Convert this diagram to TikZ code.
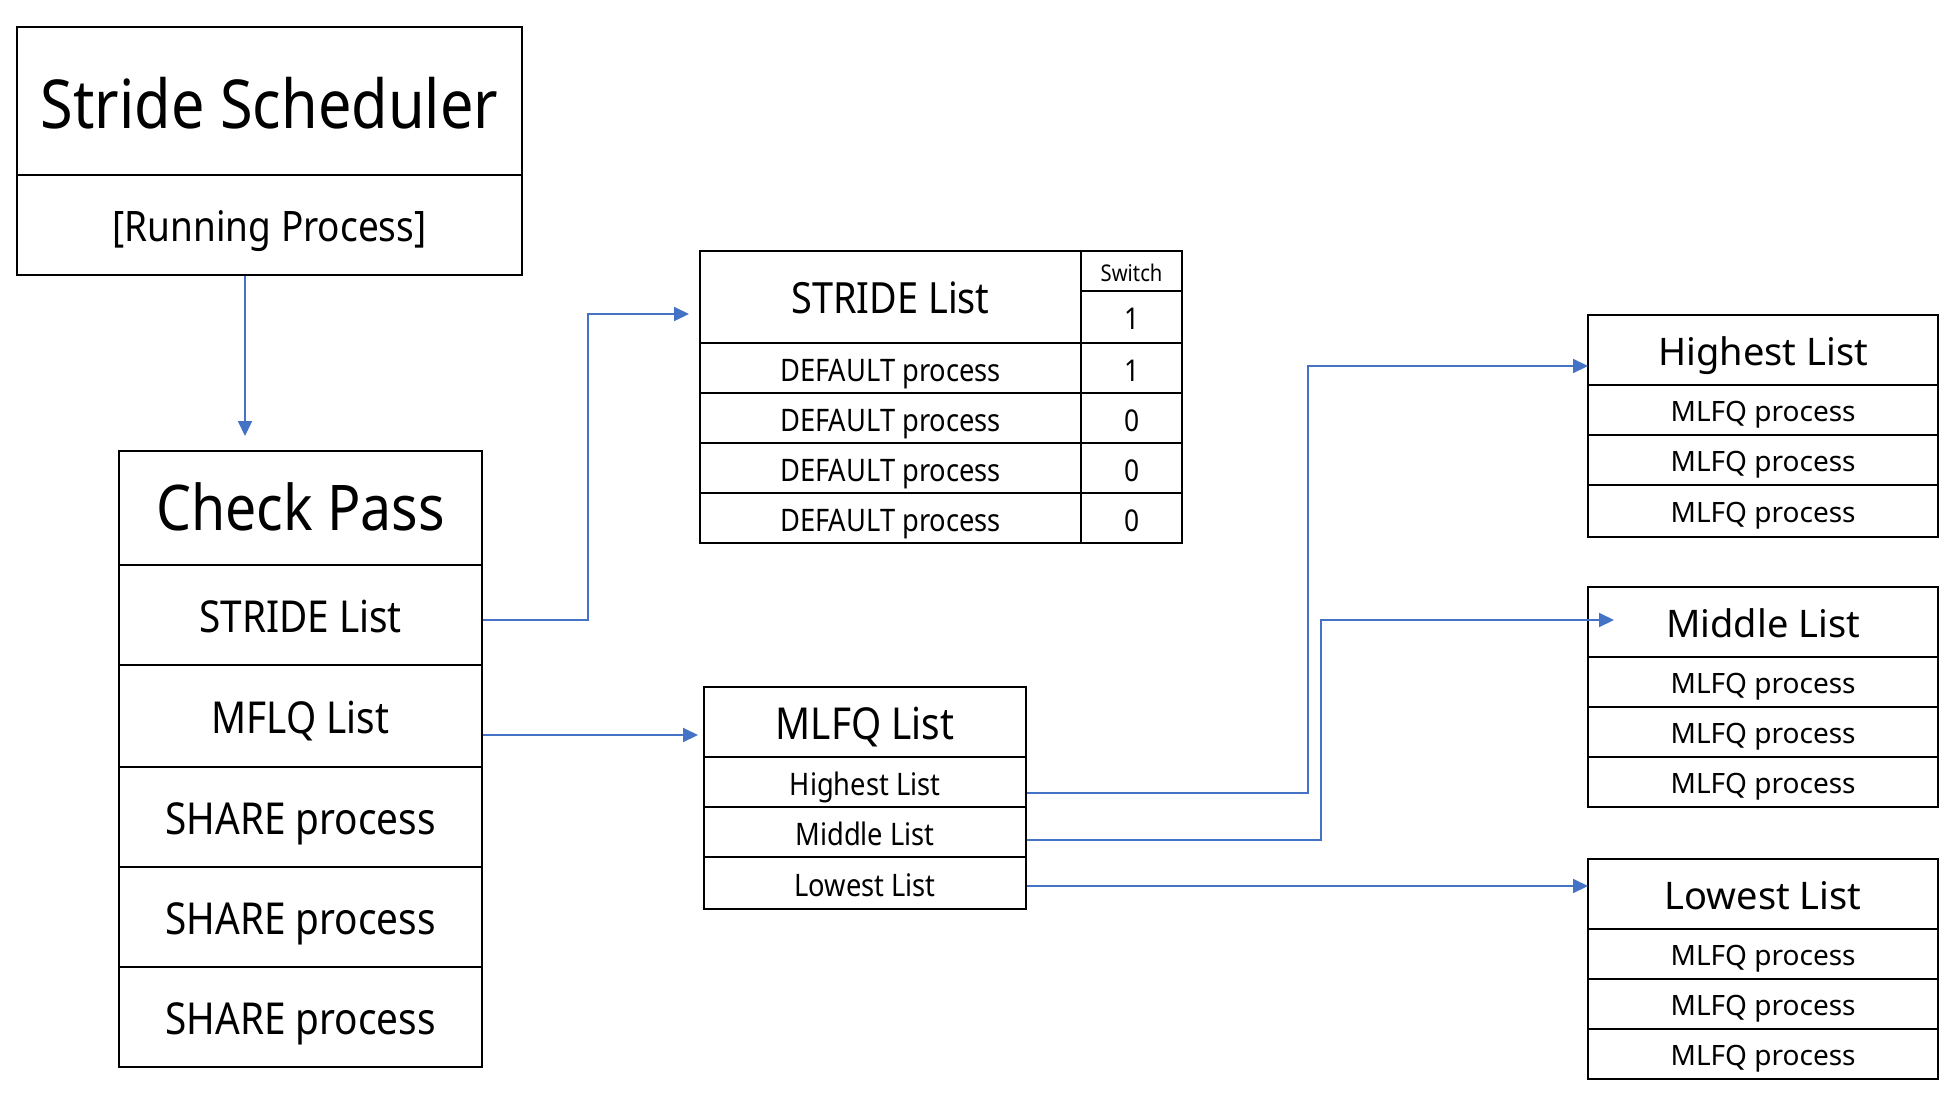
\documentclass[tikz,border=0pt]{standalone}
\usepackage{fontspec}
\setmainfont{Noto Sans}
\newfontfamily\wfont{Noto Sans}
\newfontfamily\cfont[FakeStretch=0.88]{Noto Sans}
\usetikzlibrary{arrows.meta,calc}
\definecolor{linkblue}{HTML}{4472C4}
\newcommand\fs[1]{\fontsize{#1}{#1}\selectfont}
\begin{document}
\begin{tikzpicture}[x=1pt,y=-1pt,
  cell/.style={draw=black,line width=2.2pt,inner sep=0pt,anchor=north west,align=center,text depth=0pt},
  cnd/.style 2 args={font=\cfont\fs{#1},text height=#2pt},
  wid/.style 2 args={font=\wfont\fs{#1},text height=#2pt},
  link/.style={draw=linkblue,line width=2pt,-{Triangle[length=15pt,width=14pt]}}]
\useasboundingbox (0,0) rectangle (1960,1100);
% Stride Scheduler
\node[cell,cnd={67.5}{54},minimum width=505pt,minimum height=148pt] (sched) at (16,26) {Stride Scheduler};
\node[cell,cnd={42}{33},minimum width=505pt,minimum height=100pt] (sched2) at (16,174) {[Running Process]};
% Check Pass
\node[cell,cnd={63}{44},minimum width=363pt,minimum height=114pt] (cphead) at (118,450) {Check Pass};
\node[cell,cnd={44}{34},minimum width=363pt,minimum height=100pt] (cpstride) at (118,564) {STRIDE List};
\node[cell,cnd={44}{34},minimum width=363pt,minimum height=102pt] (cpmflq) at (118,664) {MFLQ List};
\node[cell,cnd={44}{34},minimum width=363pt,minimum height=100pt] (cpsh1) at (118,766) {SHARE process};
\node[cell,cnd={44}{34},minimum width=363pt,minimum height=100pt] (cpsh2) at (118,866) {SHARE process};
\node[cell,cnd={44}{34},minimum width=363pt,minimum height=100pt] (cpsh3) at (118,966) {SHARE process};
% STRIDE table
\node[cell,cnd={43}{33},minimum width=381pt,minimum height=92pt] (sthead) at (699,250) {STRIDE List};
\node[cell,cnd={23}{20},minimum width=101pt,minimum height=40pt] (swhead) at (1080,250) {Switch};
\node[cell,cnd={30}{25},minimum width=101pt,minimum height=52pt] (sw0) at (1080,290) {1};
\node[cell,cnd={31}{26},minimum width=381pt,minimum height=50pt] (d1) at (699,342) {DEFAULT process};
\node[cell,cnd={30}{26},minimum width=101pt,minimum height=50pt] (s1) at (1080,342) {1};
\node[cell,cnd={31}{26},minimum width=381pt,minimum height=50pt] (d2) at (699,392) {DEFAULT process};
\node[cell,cnd={30}{26},minimum width=101pt,minimum height=50pt] (s2) at (1080,392) {0};
\node[cell,cnd={31}{26},minimum width=381pt,minimum height=50pt] (d3) at (699,442) {DEFAULT process};
\node[cell,cnd={30}{26},minimum width=101pt,minimum height=50pt] (s3) at (1080,442) {0};
\node[cell,cnd={31}{26},minimum width=381pt,minimum height=50pt] (d4) at (699,492) {DEFAULT process};
\node[cell,cnd={30}{26},minimum width=101pt,minimum height=50pt] (s4) at (1080,492) {0};
% MLFQ List
\node[cell,cnd={44}{34},minimum width=322pt,minimum height=70pt] (mhead) at (703,686) {MLFQ List};
\node[cell,cnd={31}{26},minimum width=322pt,minimum height=50pt] (mhigh) at (703,756) {Highest List};
\node[cell,cnd={31}{26},minimum width=322pt,minimum height=50pt] (mmid) at (703,806) {Middle List};
\node[cell,cnd={31}{26},minimum width=322pt,minimum height=52pt] (mlow) at (703,856) {Lowest List};
% Highest
\node[cell,wid={38}{30},minimum width=350pt,minimum height=70pt] (hhead) at (1587,314) {Highest List};
\node[cell,wid={28}{23},minimum width=350pt,minimum height=50pt] (h1) at (1587,384) {MLFQ process};
\node[cell,wid={28}{23},minimum width=350pt,minimum height=50pt] (h2) at (1587,434) {MLFQ process};
\node[cell,wid={28}{23},minimum width=350pt,minimum height=52pt] (h3) at (1587,484) {MLFQ process};
% Middle
\node[cell,wid={38}{30},minimum width=350pt,minimum height=70pt] (ihead) at (1587,586) {Middle List};
\node[cell,wid={28}{23},minimum width=350pt,minimum height=50pt] (i1) at (1587,656) {MLFQ process};
\node[cell,wid={28}{23},minimum width=350pt,minimum height=50pt] (i2) at (1587,706) {MLFQ process};
\node[cell,wid={28}{23},minimum width=350pt,minimum height=50pt] (i3) at (1587,756) {MLFQ process};
% Lowest
\node[cell,wid={38}{30},minimum width=350pt,minimum height=70pt] (lhead) at (1587,858) {Lowest List};
\node[cell,wid={28}{23},minimum width=350pt,minimum height=50pt] (l1) at (1587,928) {MLFQ process};
\node[cell,wid={28}{23},minimum width=350pt,minimum height=50pt] (l2) at (1587,978) {MLFQ process};
\node[cell,wid={28}{23},minimum width=350pt,minimum height=50pt] (l3) at (1587,1028) {MLFQ process};
% connectors
\coordinate (t0) at (245,436);
\coordinate (t1) at (689,314);
\coordinate (t2) at (698,735);
\coordinate (t3) at (1588,366);
\coordinate (t4) at (1614,620);
\coordinate (t5) at (1588,886);
\draw[link] (t0 |- sched2.south) -- (t0);
\draw[link] ([yshift=-5pt]cpstride.east) -- ++(105,0) |- (t1);
\draw[link] (cpmflq.east |- t2) -- (t2);
\draw[link] ([yshift=-11pt]mhigh.east) -- ++(281,0) |- (t3);
\draw[link] ([yshift=-8pt]mmid.east) -- ++(294,0) |- (t4);
\draw[link] (mlow.east |- t5) -- (t5);
\end{tikzpicture}
\end{document}
